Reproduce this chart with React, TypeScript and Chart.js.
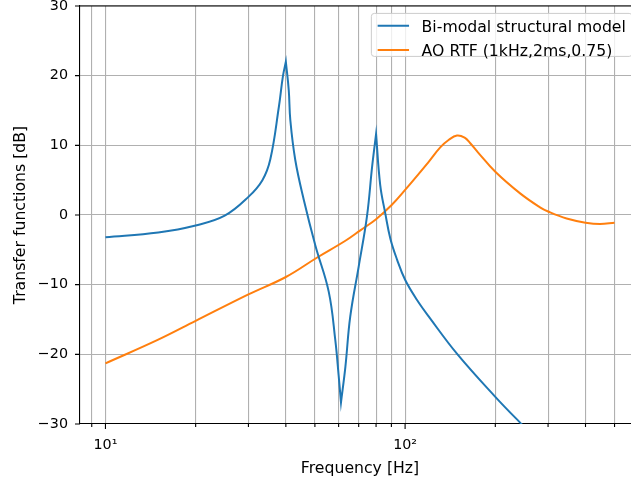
import React, { useEffect, useRef } from "react";
import { Chart, registerables } from "chart.js";

Chart.register(...registerables);

// ---- data ----
const seriesLabels = ["Bi-modal structural model", "AO RTF (1kHz,2ms,0.75)"];

// the two resonance peaks and the notch are cusps: their sample is listed twice
// so that the library's spline turns sharply there instead of rounding them off
const freqModel = [10, 15, 20, 25, 30, 33.4, 35.5, 37.9, 39.1, 40, 40, 40.9, 41.4, 43, 45.9, 50.2, 55.6, 58.5, 60, 61.1, 61.1, 63.2, 65.6, 70, 74.6, 77.6, 80, 80, 82.6, 85.9, 89.3, 94, 100, 109.6, 121, 148.9, 200, 242, 300, 400, 500];
const dbModel = [-3.2, -2.5, -1.5, -0.1, 2.6, 5.0, 8.0, 15.5, 19.9, 22.0, 22.0, 17.9, 13.6, 7.9, 2.2, -4.4, -11.0, -18.0, -23.0, -26.9, -26.9, -21.8, -14.6, -7.4, -0.2, 6.9, 11.6, 11.6, 4.3, 0.2, -3.4, -6.4, -9.3, -12.2, -14.8, -19.9, -26.1, -29.8, -33.8, -38.8, -42.7];

const freqAO = [10, 15, 20, 30, 40, 50.9, 63.2, 70.9, 80, 90, 100, 119.7, 131, 140, 149, 158, 165, 175, 200, 242, 282, 300, 346, 400, 447, 500];
const dbAO = [-21.3, -17.9, -15.2, -11.4, -8.9, -6.1, -3.7, -2.2, -0.6, 1.4, 3.6, 7.6, 9.7, 10.8, 11.4, 11.1, 10.3, 9.0, 6.2, 3.1, 1.1, 0.5, -0.5, -1.1, -1.3, -1.1];

const xTickValues = [9, 10, 20, 30, 40, 50, 60, 70, 80, 90, 100, 200, 300, 400, 500, 600];
const xMajorLabels: Record<number, string> = { 10: "10\u00b9", 100: "10\u00b2" };
const yTickValues = [-30, -20, -10, 0, 10, 20, 30];

const xMin = Math.pow(10, 0.91505);
const xMax = Math.pow(10, 2.78392);

const FONT = "'DejaVu Sans'";
const TICK_FS = 14.3;
const LABEL_FS = 15.7;

const framePlugin = {
  id: "mplFrame",
  afterDraw(chart: any) {
    const ctx = chart.ctx as CanvasRenderingContext2D;
    const area = chart.chartArea;
    const xs = chart.scales.x;
    const ys = chart.scales.y;
    ctx.save();
    // top & right spines
    ctx.strokeStyle = "#000";
    ctx.lineWidth = 1.1;
    ctx.beginPath();
    ctx.moveTo(area.left, area.top);
    ctx.lineTo(area.right, area.top);
    ctx.lineTo(area.right, area.bottom);
    ctx.stroke();
    // tick marks
    ctx.beginPath();
    for (const t of xs.ticks) {
      const px = xs.getPixelForValue(t.value);
      const len = xMajorLabels[t.value] ? 5 : 3;
      ctx.moveTo(px, area.bottom);
      ctx.lineTo(px, area.bottom + len);
    }
    for (const t of ys.ticks) {
      const py = ys.getPixelForValue(t.value);
      ctx.moveTo(area.left, py);
      ctx.lineTo(area.left - 5, py);
    }
    ctx.stroke();

    // legend (matplotlib style, upper right inside axes)
    const fs = LABEL_FS;
    ctx.font = `${fs}px ${FONT}`;
    const ds = chart.data.datasets;
    const maxW = Math.max(...ds.map((d: any) => ctx.measureText(d.label).width));
    const boxW = 3.6 * fs + maxW;
    const boxH = 43;
    const right = area.right - 0.5 * fs;
    const top = area.top + 7.4;
    const left = right - boxW;
    ctx.beginPath();
    if ((ctx as any).roundRect) (ctx as any).roundRect(left, top, boxW, boxH, 3);
    else ctx.rect(left, top, boxW, boxH);
    ctx.fillStyle = "rgba(255,255,255,0.8)";
    ctx.fill();
    ctx.strokeStyle = "#cccccc";
    ctx.lineWidth = 1;
    ctx.stroke();
    ds.forEach((d: any, i: number) => {
      const y = top + 12.3 + i * 24.3;
      ctx.beginPath();
      ctx.strokeStyle = d.borderColor;
      ctx.lineWidth = 2;
      ctx.moveTo(left + 0.4 * fs, y);
      ctx.lineTo(left + 2.4 * fs, y);
      ctx.stroke();
      ctx.fillStyle = "#000";
      ctx.textAlign = "left";
      ctx.textBaseline = "alphabetic";
      ctx.fillText(d.label, left + 3.2 * fs, y + 6.2);
    });
    ctx.restore();
  },
};

export default function App() {
  const ref = useRef<HTMLCanvasElement>(null);
  useEffect(() => {
    const canvas = ref.current!;
    const lineStyle = {
      borderWidth: 2,
      pointRadius: 0,
      tension: 0.4,
      cubicInterpolationMode: "default",
      fill: false,
    };
    const chart = new Chart(canvas, {
      type: "line",
      data: {
        datasets: [
          {
            label: seriesLabels[0],
            data: freqModel.map((f, i) => ({ x: f, y: dbModel[i] })),
            borderColor: "#1f77b4",
            backgroundColor: "#1f77b4",
            ...lineStyle,
          },
          {
            label: seriesLabels[1],
            data: freqAO.map((f, i) => ({ x: f, y: dbAO[i] })),
            borderColor: "#ff7f0e",
            backgroundColor: "#ff7f0e",
            ...lineStyle,
          },
        ],
      },
      options: {
        responsive: false,
        animation: false,
        devicePixelRatio: 1,
        events: [],
        layout: { padding: { top: 6, left: 0, right: 0, bottom: 0 } },
        plugins: { legend: { display: false }, tooltip: { enabled: false } },
        scales: {
          x: {
            type: "logarithmic",
            min: xMin,
            max: xMax,
            afterBuildTicks: (s: any) => {
              s.ticks = xTickValues.map((v) => ({ value: v }));
            },
            afterFit: (s: any) => {
              s.height = 60;
              s.paddingLeft = 0;
              s.paddingRight = 0;
            },
            ticks: {
              autoSkip: false,
              maxRotation: 0,
              minRotation: 0,
              color: "#000",
              padding: 8,
              font: { family: FONT, size: TICK_FS },
              callback: (v: any) => xMajorLabels[Number(v)] ?? "",
            },
            grid: { color: "#b0b0b0", lineWidth: 1.1, tickLength: 5, tickColor: "rgba(0,0,0,0)" },
            border: { color: "#000", width: 1.1 },
            title: {
              display: true,
              text: "Frequency [Hz]",
              color: "#000",
              font: { family: FONT, size: LABEL_FS },
              padding: { top: 0, bottom: 5.6 },
            },
          },
          y: {
            type: "linear",
            min: -30,
            max: 30,
            afterBuildTicks: (s: any) => {
              s.ticks = yTickValues.map((v) => ({ value: v }));
            },
            afterFit: (s: any) => {
              s.width = 80;
              s.paddingTop = 0;
              s.paddingBottom = 0;
            },
            ticks: {
              color: "#000",
              padding: 7,
              font: { family: FONT, size: TICK_FS },
              callback: (v: any) => (Number(v) < 0 ? "\u2212" + Math.abs(Number(v)) : String(v)),
            },
            grid: { color: "#b0b0b0", lineWidth: 1.1, tickLength: 5, tickColor: "rgba(0,0,0,0)" },
            border: { color: "#000", width: 1.1 },
            title: {
              display: true,
              text: "Transfer functions [dB]",
              color: "#000",
              font: { family: FONT, size: LABEL_FS },
              padding: { top: 11.6, bottom: 0 },
            },
          },
        },
      } as any,
      plugins: [framePlugin],
    });
    return () => chart.destroy();
  }, []);

  return (
    <div style={{ position: "absolute", left: 0, top: 0, width: 631, height: 484, overflow: "hidden", background: "#fff" }}>
      <canvas ref={ref} width={640} height={484} style={{ display: "block" }} />
    </div>
  );
}
